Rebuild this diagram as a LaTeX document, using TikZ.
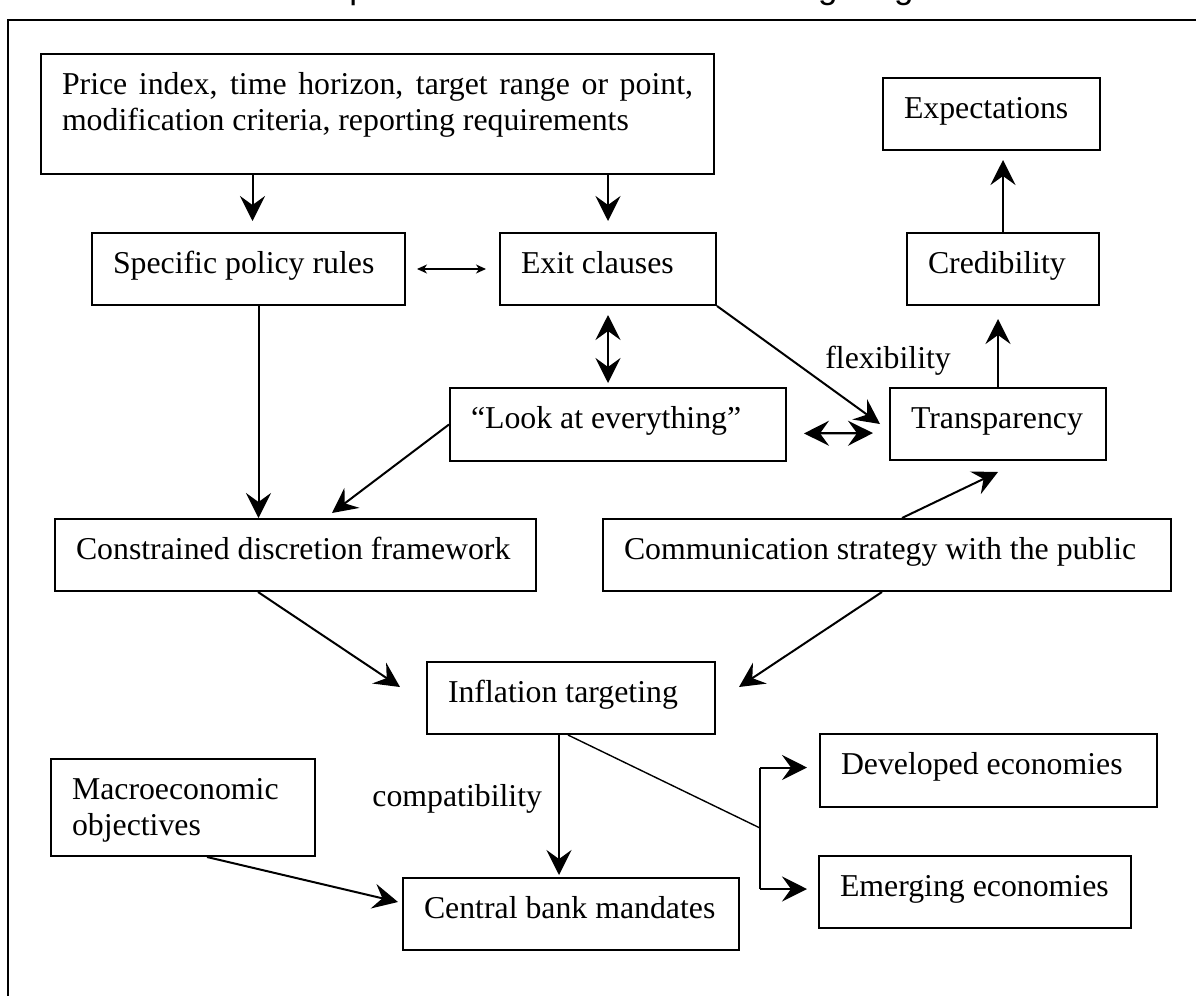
\documentclass[tikz,border=0pt]{standalone}
\usepackage{fontspec}
\setmainfont{Liberation Serif}
\newfontfamily\titlefont{Liberation Sans}
\usetikzlibrary{arrows.meta,calc}

% box: name, left, top, right, bottom (px), text
\newcommand\bx[6]{%
  \node[box] (#1) at (#2,#3) {\parbox[b][\dimexpr(#5pt-#3pt)/2\relax][t]{\dimexpr(#4pt-#2pt)/2\relax}{%
    \leftskip=10.5pt\relax\rightskip=10.5pt\relax\tolerance=9999\hyphenpenalty=10000
    \rule{0pt}{20pt}#6}};}

\tikzset{
  box/.style={draw, line width=1pt, inner sep=0pt, anchor=north west,
    font=\fontsize{15.9}{18.35}\selectfont},
  lbl/.style={inner sep=0pt, anchor=base west, font=\fontsize{15.9}{18.35}\selectfont},
  tip/.tip={Stealth[length=12.5pt,width=12.5pt,inset=4.5pt]},
  arr/.style={line width=1pt, -tip},
  darr/.style={line width=1.1pt, tip-tip},
  thinarr/.style={line width=0.6pt, {Stealth[length=5pt,width=4.5pt,inset=1.5pt]}-{Stealth[length=5pt,width=4.5pt,inset=1.5pt]}},
  plain/.style={line width=0.7pt},
}

\begin{document}
\begin{tikzpicture}[x=0.5pt,y=-0.5pt]
\useasboundingbox (0,0) rectangle (1196,996);

% heading, mostly above the page
\node[anchor=base, inner sep=0pt, font=\titlefont\fontsize{17.5}{20}\selectfont] (title) at (581,-1.5) {Conceptual framework of inflation targeting};

% outer frame
\draw[line width=1pt] (8,1010) -- (8,20) -- (1210,20);

% boxes
\bx{price}{40}{53}{713}{173}{Price index, time horizon, target range or point, modification criteria, reporting requirements}
\bx{spec}{91}{232}{404}{304}{Specific policy rules}
\bx{exit}{499}{232}{715}{304}{Exit clauses}
\bx{expe}{882}{77}{1099}{149}{Expectations}
\bx{cred}{906}{232}{1098}{304}{Credibility}
\bx{look}{449}{387}{785}{460}{``Look at everything''}
\bx{trans}{889}{387}{1105}{459}{Transparency}
\bx{constr}{54}{518}{535}{590}{Constrained discretion framework}
\bx{comm}{602}{518}{1170}{590}{Communication strategy with the public}
\bx{infl}{426}{661}{714}{733}{Inflation targeting}
\bx{dev}{819}{733}{1156}{806}{Developed economies}
\bx{emerg}{818}{855}{1130}{927}{Emerging economies}
\bx{macro}{50}{758}{314}{855}{Macroeconomic objectives}
\bx{central}{402}{877}{738}{949}{Central bank mandates}

% labels
\node[lbl] (flex) at (825,368) {flexibility};
\node[lbl] (compat) at (372,806) {compatibility};

% connectors
\draw[arr] ([xshift=2pt]spec.north |- price.south) -- ([xshift=2pt,yshift=5.5pt]spec.north);
\draw[arr] (exit.north |- price.south) -- ([yshift=5.5pt]exit.north);
\draw[thinarr, shorten <=5.5pt, shorten >=6.5pt] (spec.east) -- (exit.west);
\draw[darr, shorten <=4.5pt, shorten >=2pt] (exit.south) -- (exit.south |- look.north);
\draw[arr] (exit.south east) -- ([xshift=-4.5pt]trans.west);
\draw[darr, shorten <=8.5pt, shorten >=8pt] ([yshift=-4.5pt]look.east) -- ([yshift=-4.5pt]trans.west);
\draw[arr, shorten >=6.5pt] (trans.north) -- (trans.north |- cred.south);
\draw[arr, shorten >=4.5pt] (cred.north) -- (cred.north |- expe.south);
\draw[arr] ($(comm.north west)+(300,0)$) -- ([yshift=-5.5pt]trans.south);
\draw[arr] ([xshift=5pt]spec.south) -- ([xshift=5pt]spec.south |- constr.north);
\draw[arr] (look.west) -- ($(constr.north west)+(278,-5)$);
\draw[arr] ($(constr.south west)+(204,0)$) -- ($(infl.north west)+(-26,26)$);
\draw[arr] ($(comm.south west)+(280,0)$) -- ($(infl.north east)+(23,26)$);
\coordinate (ic) at ($(infl.south west)+(133,0)$);
\draw[arr, shorten >=1pt] (ic) -- (ic |- central.north);
\coordinate (ij) at ($(infl.south west)+(142,0)$);
\coordinate (junc) at (760,828);
\draw[plain] (ij) -- (junc);
\coordinate (jd) at ($(junc |- dev.west)+(0,-3)$);
\coordinate (je) at ($(junc |- emerg.west)+(0,-3)$);
\draw[plain] (jd) -- (je);
\draw[arr] (jd) -- (jd -| {$(dev.west)+(-12,0)$});
\draw[arr] (je) -- (je -| {$(emerg.west)+(-11,0)$});
\draw[arr] ($(macro.south west)+(157,0)$) -- ($(central.north west)+(-4,25)$);
\end{tikzpicture}
\end{document}
